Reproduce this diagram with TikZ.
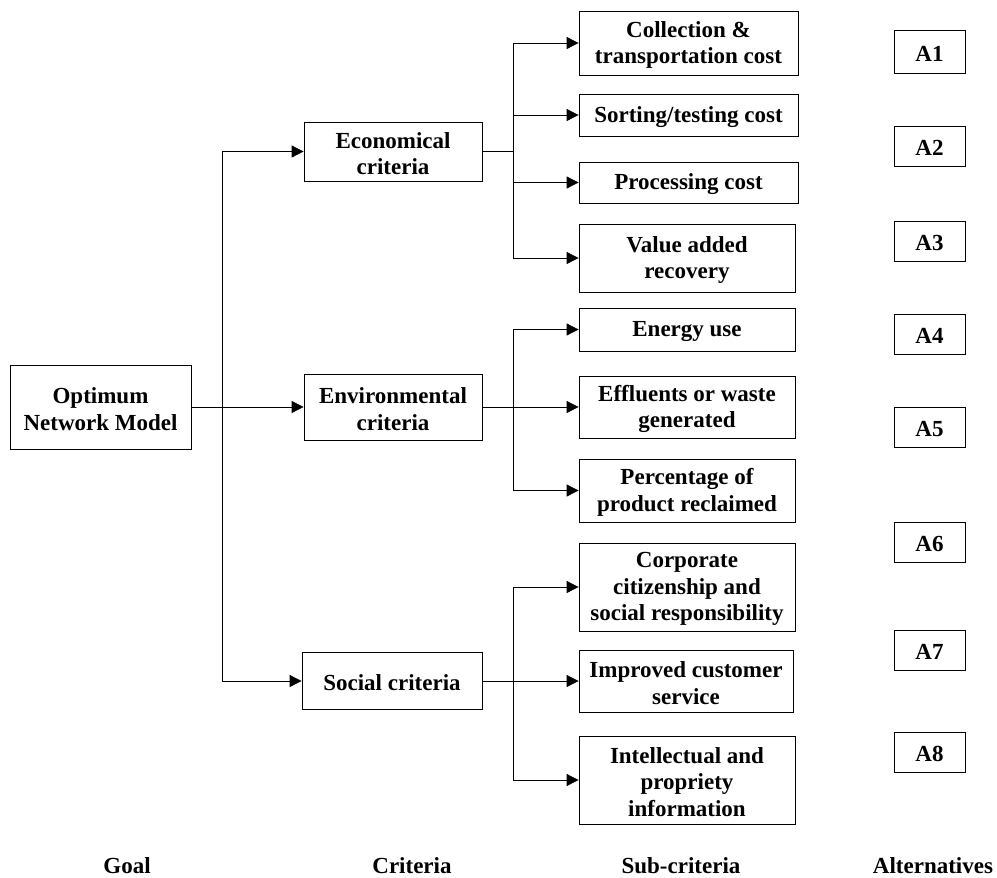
\documentclass[tikz,border=0pt]{standalone}
\usepackage{fontspec}
\setmainfont{Liberation Serif}
\usetikzlibrary{arrows.meta}
\newcommand\bxnode[5]{%
  \node[box, minimum width=#2pt, minimum height=#3pt] (#1) at (#4) {};
  \node[txt] (#1-t) at ([yshift=-2pt]#1.center) {#5};}
\begin{document}
\begin{tikzpicture}[x=1pt,y=-1pt,
  txt/.style={font=\fontsize{23}{26.7}\selectfont\bfseries, align=center, inner sep=0pt},
  box/.style={draw, line width=0.8pt, inner sep=0pt},
  arr/.style={-{Triangle[length=12pt,width=12pt]}, line width=0.8pt},
  ln/.style={line width=0.8pt}]
\useasboundingbox (0,0) rectangle (997,878);
% goal
\bxnode{goal}{181}{84}{100.5,407}{Optimum\\Network Model}
% criteria
\bxnode{eco}{178}{59}{393,151.5}{Economical\\criteria}
\bxnode{env}{178}{66}{393,407}{Environmental\\criteria}
\bxnode{soc}{180}{57}{392,681}{Social criteria}
% sub-criteria
\bxnode{s1}{219}{64}{688.5,43}{Collection \&\\transportation cost}
\bxnode{s2}{219}{42}{688.5,115}{Sorting/testing cost}
\bxnode{s3}{219}{41}{688.5,182.5}{Processing cost}
\bxnode{s4}{216}{68}{687,258}{Value added\\recovery}
\bxnode{s5}{216}{43}{687,329.5}{Energy use}
\bxnode{s6}{216}{62}{687,407}{Effluents or waste\\generated}
\bxnode{s7}{216}{63}{687,490.5}{Percentage of\\product reclaimed}
\bxnode{s8}{216}{88}{687,587}{Corporate\\citizenship and\\social responsibility}
\bxnode{s9}{214}{62}{686,681}{Improved customer\\service}
\bxnode{s10}{216}{88}{687,780}{Intellectual and\\propriety\\information}
% alternatives
\bxnode{a1}{71}{43}{929.5,51.5}{A1}
\bxnode{a2}{71}{40}{929.5,146}{A2}
\bxnode{a3}{71}{40}{929.5,241}{A3}
\bxnode{a4}{71}{40}{929.5,334}{A4}
\bxnode{a5}{71}{40}{929.5,427}{A5}
\bxnode{a6}{71}{40}{929.5,542}{A6}
\bxnode{a7}{71}{40}{929.5,650}{A7}
\bxnode{a8}{71}{40}{929.5,752}{A8}
% level labels
\node[txt] (lg) at (127,866) {Goal};
\node[txt] (lc) at (412,866) {Criteria};
\node[txt] (ls) at (681,866) {Sub-criteria};
\node[txt] (la) at (933,866) {Alternatives};
% trunk from goal
\coordinate (t) at (222,0);
\draw[arr] (goal.east) -- (env.west);
\draw[arr] (goal.east -| t) |- (eco.west);
\draw[arr] (goal.east -| t) |- (soc.west);
% branches
\coordinate (b) at (513,0);
\draw[ln] (eco.east) -- (eco.east -| b);
\foreach \s in {s1,s2,s3,s4} \draw[arr] (eco.east -| b) |- (\s.west);
\draw[ln] (env.east) -- (env.east -| b);
\foreach \s in {s5,s6,s7} \draw[arr] (env.east -| b) |- (\s.west);
\draw[ln] (soc.east) -- (soc.east -| b);
\foreach \s in {s8,s9,s10} \draw[arr] (soc.east -| b) |- (\s.west);
\end{tikzpicture}
\end{document}
